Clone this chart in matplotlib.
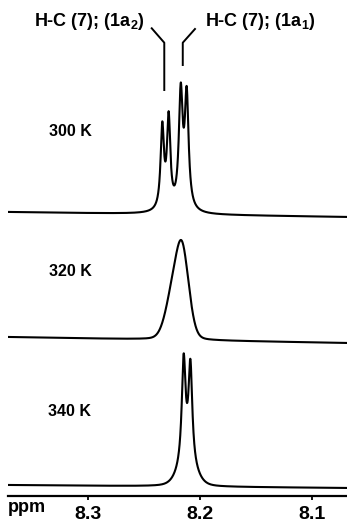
import numpy as np
import matplotlib
matplotlib.use('Agg')
import matplotlib.pyplot as plt

plt.rcParams['font.family'] = ['Liberation Sans', 'DejaVu Sans']
plt.rcParams['mathtext.fontset'] = 'custom'
plt.rcParams['mathtext.rm'] = 'Liberation Sans:bold'
plt.rcParams['mathtext.bf'] = 'Liberation Sans:bold'
plt.rcParams['mathtext.it'] = 'Liberation Sans:italic'

# ---------------- data ----------------
ppm_min, ppm_max = 8.0688, 8.3714
x_ticks = [8.3, 8.2, 8.1]
x_tick_labels = ['8.3', '8.2', '8.1']
temperatures = ['300 K', '320 K', '340 K']
baseline_left = [283, 158, 10]      # vertical offset at left edge
baseline_right = [278, 152, 7]      # vertical offset at right edge

# peak lists: (centre ppm, height, half width ppm, lorentz fraction)
peaks_300 = [(8.2337, 82, 0.0018, 1.0),
             (8.2280, 90, 0.0018, 1.0),
             (8.2172, 114, 0.00205, 1.0),
             (8.2119, 112, 0.00205, 1.0)]
peaks_320 = [(8.2259, 32, 0.00714, 0.15),
             (8.2161, 90, 0.00714, 0.15)]
peaks_340 = [(8.2146, 106, 0.00205, 1.0),
             (8.2086, 100, 0.00205, 1.0),
             (8.2116, 18, 0.0089, 0.0)]
spectra = [peaks_300, peaks_320, peaks_340]

label_text_y = [364, 224, 83]
label_text_x = 8.3161

ann_left = r'H-C (7); ($\mathbf{1a}_{\mathbf{2}}$)'
ann_right = r'H-C (7); ($\mathbf{1a}_{\mathbf{1}}$)'
ann_left_pos = (8.2985, 474)
ann_right_pos = (8.1464, 474)
lead_left_x = [8.2431, 8.2319, 8.2319]
lead_left_y = [466.7, 452.3, 405]
lead_right_x = [8.2045, 8.2154, 8.2154]
lead_right_y = [466, 452.3, 430]


def line_shape(x, c, h, w, eta):
    d = (x - c) / w
    lor = 1.0 / (1.0 + d ** 2)
    gau = np.exp(-np.log(2) * d ** 2)
    return h * (eta * lor + (1 - eta) * gau)


# ---------------- figure ----------------
fig = plt.figure(figsize=(3.47, 5.23), dpi=100)
ax = fig.add_axes([8 / 347, 27 / 523, 339 / 347, 496 / 523])
x = np.linspace(ppm_max, ppm_min, 3000)

for peaks, bl, br, lab, ly in zip(spectra, baseline_left, baseline_right,
                                  temperatures, label_text_y):
    base = bl + (br - bl) * (ppm_max - x) / (ppm_max - ppm_min)
    y = base.copy()
    for c, h, w, eta in peaks:
        y += line_shape(x, c, h, w, eta)
    ax.plot(x, y, color='black', lw=1.5, solid_joinstyle='round')
    ax.text(label_text_x, ly, lab, ha='center', va='center',
            fontsize=11.5, fontweight='bold')

ax.text(*ann_left_pos, ann_left, ha='center', va='center', fontsize=13,
        fontweight='bold')
ax.text(*ann_right_pos, ann_right, ha='center', va='center', fontsize=13,
        fontweight='bold')
ax.plot(lead_left_x, lead_left_y, color='black', lw=1.4)
ax.plot(lead_right_x, lead_right_y, color='black', lw=1.4)

ax.set_xlim(ppm_max, ppm_min)
ax.set_ylim(-1, 495)
for s in ['top', 'left', 'right']:
    ax.spines[s].set_visible(False)
ax.spines['bottom'].set_linewidth(1.6)
ax.set_yticks([])
ax.set_xticks(x_ticks)
ax.set_xticklabels(x_tick_labels, fontsize=14, fontweight='bold')
ax.tick_params(axis='x', direction='out', length=3, width=1.3, pad=4)

fig.text(8 / 347, (523 - 512) / 523, 'ppm', ha='left', va='baseline',
         fontsize=13, fontweight='bold')

fig.savefig('out.png', dpi=100)
